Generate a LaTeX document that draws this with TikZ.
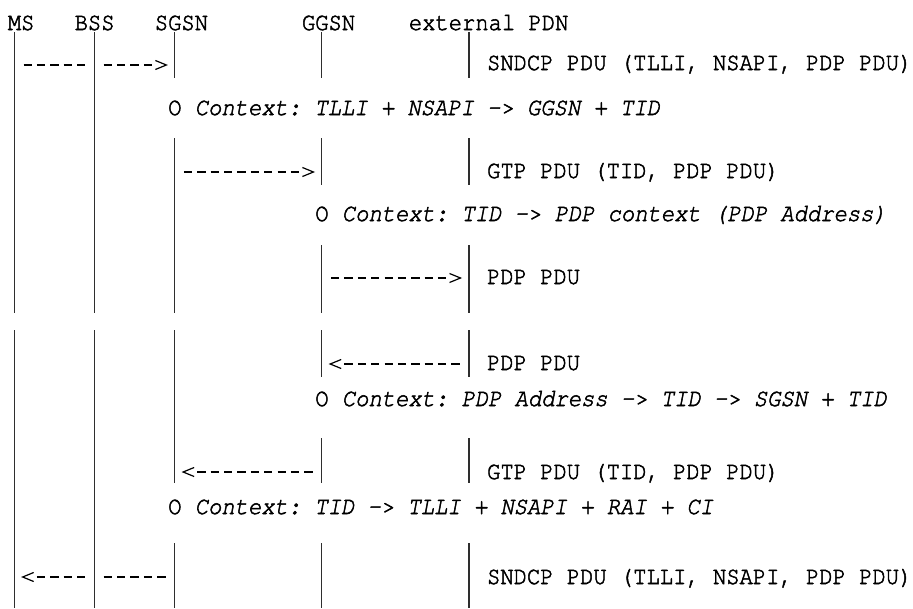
\documentclass[tikz,border=0pt]{standalone}
\usepackage{fontspec}
\newfontfamily\curfam{texgyrecursor}[Extension=.otf, UprightFont=*-regular, ItalicFont=*-italic, FakeStretch=0.886, FakeBold=2]
\newcommand\courfont{\curfam\fontsize{25}{27}\selectfont\frenchspacing}
\newcommand\cx[1]{14.3+13.37*(#1)}
\begin{document}
\begin{tikzpicture}[x=1pt,y=-1pt,
  lifeline/.style={draw=black!82,line width=1.25pt},
  hy/.style={draw=black,line width=1.3pt,dash pattern=on 8.3pt off 5.07pt},
  chev/.style={draw=black,line width=1.2pt,line join=miter},
  txt/.style={inner sep=0pt,anchor=base west,font=\courfont},
]
\useasboundingbox (0,0) rectangle (913,608);
% headers
\node[txt] (ms)   at ({\cx{0}-6.685},30) {MS};
\node[txt] (bss)  at ({\cx{5}-6.685},30) {BSS};
\node[txt] (sgsn) at ({\cx{11}-6.685},30) {SGSN};
\node[txt] (ggsn) at ({\cx{22}-6.685},30) {GGSN};
\node[txt] (pdn)  at ({\cx{30}-6.685},30) {external PDN};
% lifelines
\foreach \k/\a/\b in {0/32/313,0/330/608,6/32/313,6/330/608,
  12/32/78,12/138/313,12/330/483,12/543/608,
  23/32/78,23/138/185,23/245/313,23/330/377,23/438/483,23/543/608,
  34/32/78,34/138/185,34/245/313,34/330/377,34/438/483,34/543/608}
  \draw[lifeline] ({\cx{\k}},\a) -- ({\cx{\k}},\b);
% message rows
\newcommand\dashes[3]{\draw[hy] ({\cx{#1}-4.15},#3) -- ({\cx{#2}+4.15},#3);}
\newcommand\rchev[2]{\draw[chev] ({\cx{#1}-6},#2-4.5) -- ({\cx{#1}+5},#2) -- ({\cx{#1}-6},#2+4.5);}
\newcommand\lchev[2]{\draw[chev] ({\cx{#1}+6},#2-4.5) -- ({\cx{#1}-5},#2) -- ({\cx{#1}+6},#2+4.5);}
% A
\dashes{1}{5}{65} \dashes{7}{10}{65} \rchev{11}{65}
\node[txt] (la) at ({\cx{36}-8.7},70) {SNDCP PDU (TLLI, NSAPI, PDP PDU)};
% context 1
\node[txt] (c1) at ({\cx{12}-6.685},115) {O {\itshape Context: TLLI + NSAPI -> GGSN + TID}};
% B
\dashes{13}{21}{172} \rchev{22}{172}
\node[txt] (lb) at ({\cx{36}-8.7},178) {GTP PDU (TID, PDP PDU)};
% context 2
\node[txt] (c2) at ({\cx{23}-6.685},221) {O {\itshape Context: TID -> PDP context (PDP Address)}};
% C
\dashes{24}{32}{278} \rchev{33}{278}
\node[txt] (lc) at ({\cx{36}-8.7},284) {PDP PDU};
% D
\lchev{24}{364} \dashes{25}{33}{364}
\node[txt] (ld) at ({\cx{36}-8.7},370) {PDP PDU};
% context 3
\node[txt] (c3) at ({\cx{23}-6.685},406) {O {\itshape Context: PDP Address -> TID -> SGSN + TID}};
% E
\lchev{13}{472} \dashes{14}{22}{472}
\node[txt] (le) at ({\cx{36}-8.7},479) {GTP PDU (TID, PDP PDU)};
% context 4
\node[txt] (c4) at ({\cx{12}-6.685},514) {O {\itshape Context: TID -> TLLI + NSAPI + RAI + CI}};
% F
\lchev{1}{577} \dashes{2}{5}{577} \dashes{7}{11}{577}
\node[txt] (lf) at ({\cx{36}-8.7},584) {SNDCP PDU (TLLI, NSAPI, PDP PDU)};
\end{tikzpicture}
\end{document}
